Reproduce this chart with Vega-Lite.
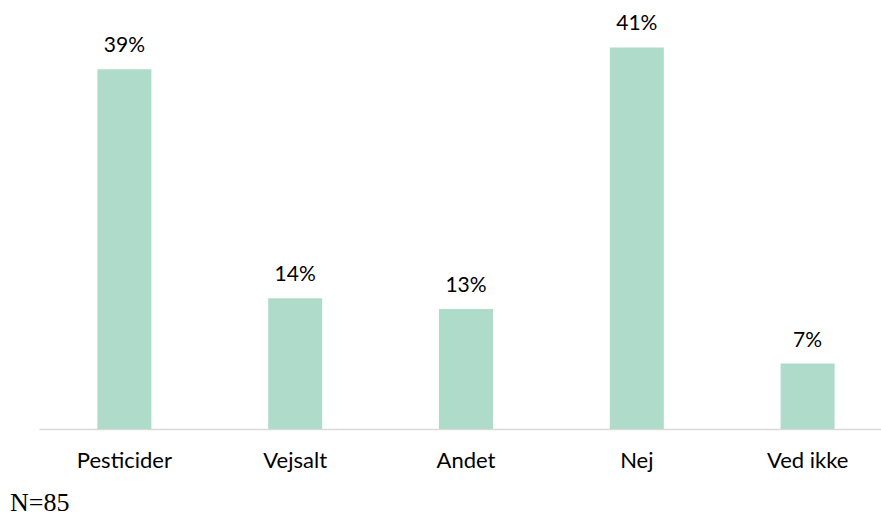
{
  "$schema": "https://vega.github.io/schema/vega-lite/v6.json",
  "autosize": {"type": "none"},
  "padding": {"left": 39, "top": 12, "right": 0, "bottom": 87},
  "width": 842,
  "height": 417,
  "background": "white",
  "data": {"values": [
    {"kategori": "Pesticider", "andel": 0.3882},
    {"kategori": "Vejsalt", "andel": 0.1412},
    {"kategori": "Andet", "andel": 0.1294},
    {"kategori": "Nej", "andel": 0.4118},
    {"kategori": "Ved ikke", "andel": 0.0706}
  ]},
  "title": {
    "text": "N=85",
    "orient": "bottom",
    "anchor": "start",
    "font": "Liberation Serif",
    "fontSize": 26,
    "fontWeight": "normal",
    "color": "#000000",
    "baseline": "alphabetic",
    "offset": 40,
    "dx": -29
  },
  "config": {"view": {"stroke": null}},
  "encoding": {
    "x": {
      "field": "kategori",
      "type": "nominal",
      "sort": null,
      "scale": {"range": [0, 854], "paddingInner": 0.684, "paddingOuter": 0.342},
      "axis": {
        "title": null,
        "labelAngle": 0,
        "ticks": false,
        "domainColor": "#d9d9d9",
        "domainWidth": 1.5,
        "labelFont": "Lato",
        "labelFontSize": 22,
        "labelColor": "#000000",
        "labelBaseline": "alphabetic",
        "labelPadding": 38
      }
    },
    "y": {
      "field": "andel",
      "type": "quantitative",
      "scale": {"domain": [0, 0.45]},
      "axis": null
    }
  },
  "layer": [
    {"mark": {"type": "bar", "color": "#afdbca"}},
    {
      "mark": {"type": "text", "font": "Lato", "fontSize": 21, "color": "#000000", "baseline": "alphabetic", "dy": -17},
      "encoding": {"text": {"field": "andel", "type": "quantitative", "format": ".0%"}}
    }
  ]
}
